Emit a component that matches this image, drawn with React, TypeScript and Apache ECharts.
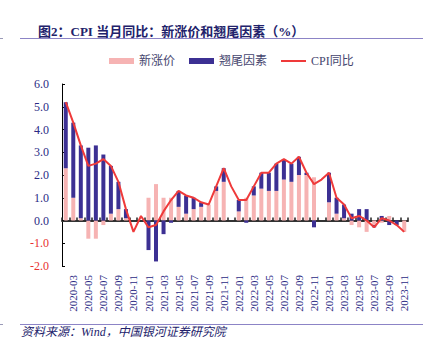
import React, { useEffect, useRef } from "react";
import * as echarts from "echarts";

const months = [
  "2020-02", "2020-03", "2020-04", "2020-05", "2020-06", "2020-07", "2020-08", "2020-09", "2020-10", "2020-11", "2020-12",
  "2021-01", "2021-02", "2021-03", "2021-04", "2021-05", "2021-06", "2021-07", "2021-08", "2021-09", "2021-10", "2021-11", "2021-12",
  "2022-01", "2022-02", "2022-03", "2022-04", "2022-05", "2022-06", "2022-07", "2022-08", "2022-09", "2022-10", "2022-11", "2022-12",
  "2023-01", "2023-02", "2023-03", "2023-04", "2023-05", "2023-06", "2023-07", "2023-08", "2023-09", "2023-10", "2023-11",
];

const cpiYoY = [
  5.2, 4.3, 3.3, 2.4, 2.5, 2.7, 2.4, 1.7, 0.5, -0.5, 0.2,
  -0.3, -0.2, 0.4, 0.9, 1.3, 1.1, 1.0, 0.8, 0.7, 1.5, 2.3, 1.5,
  0.9, 0.9, 1.5, 2.1, 2.1, 2.5, 2.7, 2.5, 2.8, 2.1, 1.6, 1.8,
  2.1, 1.0, 0.7, 0.1, 0.2, 0.0, -0.3, 0.1, 0.0, -0.2, -0.5,
];

const newPrice = [
  2.3, 1.0, 0.1, -0.8, -0.8, -0.2, 0.3, 0.5, 0.1, null, null,
  1.0, 1.6, 1.0, 1.0, 0.6, 0.3, 0.5, 0.6, 0.7, 1.3, 1.7, null,
  0.4, 1.0, 1.1, 1.4, 1.3, 1.3, 1.8, 1.7, 2.0, 2.0, 1.9, null,
  0.8, 0.3, 0.1, -0.2, -0.3, -0.5, -0.2, -0.1, 0.2, 0.0, -0.5,
];

const carryover = [
  2.9, 3.3, 3.2, 3.2, 3.3, 2.9, 2.1, 1.2, 0.4, null, null,
  -1.3, -1.8, -0.6, -0.1, 0.7, 0.8, 0.5, 0.2, 0.0, 0.2, 0.6, null,
  0.5, -0.1, 0.4, 0.7, 0.8, 1.2, 0.9, 0.8, 0.8, 0.1, -0.3, null,
  1.3, 0.7, 0.6, 0.3, 0.5, 0.5, -0.1, 0.2, -0.2, -0.2, 0.0,
];

const NAVY = "#2a2a84";
const RED = "#e8312f";
const SERIF = "Liberation Serif, serif";
const MIXED = "Liberation Serif, Noto Sans CJK SC, serif";

export default function App() {
  const ref = useRef<HTMLDivElement>(null);

  useEffect(() => {
    const chart = echarts.init(ref.current!, null, { renderer: "svg" });
    chart.setOption({
      animation: false,
      backgroundColor: "#ffffff",
      title: {
        text: "图2：CPI 当月同比：新涨价和翘尾因素（%）",
        left: 33,
        top: 20,
        textStyle: { fontSize: 13, fontWeight: "bold", color: "#22226b", fontFamily: MIXED },
      },
      legend: {
        top: 50,
        left: 104,
        itemWidth: 25,
        itemHeight: 6,
        itemGap: 14,
        textStyle: { fontSize: 12, color: "#45456e", fontFamily: MIXED },
        data: [
          { name: "新涨价", icon: "rect" },
          { name: "翘尾因素", icon: "rect" },
          { name: "CPI同比", icon: "path://M0,0L25,0L25,2L0,2Z" },
        ],
      },
      grid: { left: 62, right: 28, top: 84, height: 182 },
      xAxis: [
        {
          type: "category",
          data: months,
          position: "bottom",
          axisLine: { onZero: true, lineStyle: { color: "#333333", width: 2 } },
          axisTick: { show: true, inside: true, length: 3, interval: 0, lineStyle: { color: "#222222", width: 1.5 } },
          axisLabel: { show: false },
          splitLine: { show: false },
        },
        {
          type: "category",
          data: months,
          position: "bottom",
          axisLine: { show: false, onZero: false },
          axisTick: { show: false },
          splitLine: { show: false },
          axisLabel: {
            rotate: 90,
            interval: (i: number) => i % 2 === 1,
            margin: 9,
            fontSize: 11,
            color: NAVY,
            fontFamily: SERIF,
          },
        },
      ],
      yAxis: {
        type: "value",
        min: -2,
        max: 6,
        interval: 1,
        axisLine: { show: true, lineStyle: { color: "#000000", width: 1 } },
        axisTick: { show: true, inside: true, length: 3, lineStyle: { color: "#000000" } },
        splitLine: { show: false },
        axisLabel: {
          margin: 13,
          fontSize: 12,
          fontFamily: SERIF,
          formatter: (v: number) => v.toFixed(1),
          color: (v: any) => (Number(v) < 0 ? RED : NAVY),
        },
      },
      series: [
        {
          name: "新涨价",
          type: "bar",
          stack: "total",
          data: newPrice,
          barWidth: 4,
          itemStyle: { color: "#f6b3b3" },
        },
        {
          name: "翘尾因素",
          type: "bar",
          stack: "total",
          data: carryover,
          barWidth: 4,
          itemStyle: { color: "#3c3093" },
        },
        {
          name: "CPI同比",
          type: "line",
          data: cpiYoY,
          symbol: "none",
          z: 5,
          itemStyle: { color: "#ef3a3a" },
          lineStyle: { color: "#ef3a3a", width: 2 },
        },
      ],
      graphic: [
        { type: "line", shape: { x1: 20, y1: 38.5, x2: 423, y2: 38.5 }, style: { stroke: "#8c84c6", lineWidth: 1 } },
        { type: "line", shape: { x1: 0, y1: 38.5, x2: 3, y2: 38.5 }, style: { stroke: "#9a9ab8", lineWidth: 1 } },
        { type: "line", shape: { x1: 20, y1: 324.5, x2: 423, y2: 324.5 }, style: { stroke: "#8c84c6", lineWidth: 1 } },
        { type: "line", shape: { x1: 0, y1: 324.5, x2: 3, y2: 324.5 }, style: { stroke: "#9a9ab8", lineWidth: 1 } },
        {
          type: "text",
          x: 21,
          y: 332,
          style: {
            text: "资料来源：Wind，中国银河证券研究院",
            font: "italic 12px Liberation Serif, Noto Sans CJK SC, serif",
            fill: "#22226b",
            textVerticalAlign: "middle",
          },
        },
      ],
    });
    return () => chart.dispose();
  }, []);

  return (
    <div
      ref={ref}
      style={{ width: 436, height: 351, position: "absolute", left: 0, top: 0 }}
    />
  );
}
